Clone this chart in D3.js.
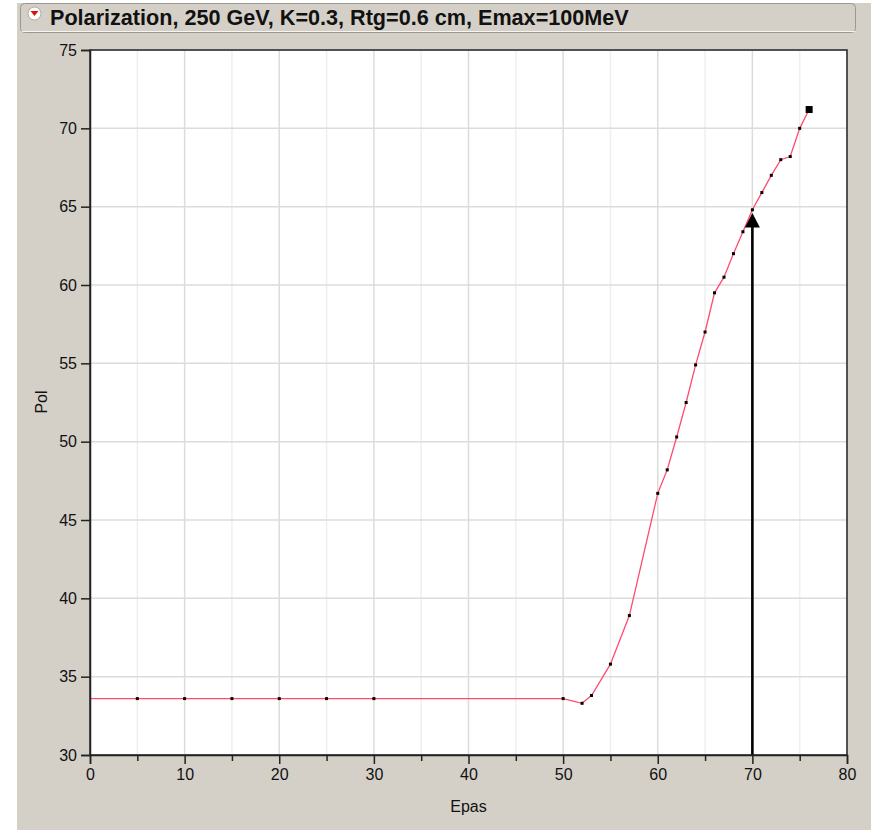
<!DOCTYPE html>
<html>
<head>
<meta charset="utf-8">
<script src="https://cdn.jsdelivr.net/npm/d3@7/dist/d3.min.js"></script>
<style>
  html, body { margin: 0; padding: 0; background: #ffffff; }
  svg { display: block; }
  text { font-family: "Liberation Sans", Arial, sans-serif; fill: #111; }
</style>
</head>
<body>
<svg id="chart" width="871" height="830"></svg>
<script>
// Polarization vs. Epas
const epas = [0, 5, 10, 15, 20, 25, 30, 50, 52, 53, 55, 57, 60, 61, 62, 63, 64, 65, 66, 67, 68, 69, 70, 71, 72, 73, 74, 75, 76];
const pol  = [33.6, 33.6, 33.6, 33.6, 33.6, 33.6, 33.6, 33.6, 33.3, 33.8, 35.8, 38.9, 46.7, 48.2, 50.3, 52.5, 54.9, 57.0, 59.5, 60.5, 62.0, 63.4, 64.8, 65.9, 67.0, 68.0, 68.2, 70.0, 71.2];

const xTicks = [0, 10, 20, 30, 40, 50, 60, 70, 80];
const xMinorTicks = [5, 15, 25, 35, 45, 55, 65, 75];
const yTicks = [30, 35, 40, 45, 50, 55, 60, 65, 70, 75];

// Vertical marker arrow at Epas = 70
const arrowEpas = 70;
const arrowFrom = 30;
const arrowTo = 64.6;

const titleText = "Polarization, 250 GeV, K=0.3, Rtg=0.6 cm, Emax=100MeV";
const xLabel = "Epas";
const yLabel = "Pol";

const svg = d3.select("#chart");
const bg = "#d4d0c8";

// window panel background
svg.append("rect").attr("x", 17).attr("y", 3).attr("width", 854).attr("height", 827).attr("fill", bg);

// title bar
svg.append("rect").attr("x", 20.5).attr("y", 3.5).attr("width", 835).attr("height", 29)
  .attr("rx", 4).attr("fill", bg).attr("stroke", "#9a978f").attr("stroke-width", 1);
svg.append("path").attr("d", "M21.5,31.5 H855.5").attr("stroke", "#ffffff").attr("stroke-width", 1).attr("opacity", 0.8);

// collapse icon
svg.append("circle").attr("cx", 34.5).attr("cy", 13.5).attr("r", 6.5).attr("fill", "#ffffff").attr("stroke", "#b0ada6");
svg.append("path").attr("d", "M30.5,11 L38.5,11 L34.5,16 Z").attr("fill", "#e01010");

const title = svg.append("text").attr("x", 50).attr("y", 25)
  .attr("font-weight", "bold").attr("font-size", 18).text(titleText);
const tl = title.node().getComputedTextLength();
title.attr("font-size", 18 * 579 / tl);

// plot area
const pLeft = 90, pRight = 847, pTop = 50, pBottom = 755;
const x = d3.scaleLinear().domain([0, 80]).range([pLeft, pRight]);
const y = d3.scaleLinear().domain([30, 75]).range([pBottom, pTop]);

svg.append("rect").attr("x", pLeft).attr("y", pTop).attr("width", pRight - pLeft).attr("height", pBottom - pTop).attr("fill", "#ffffff");

// grid
svg.append("g").selectAll("line").data(xMinorTicks).join("line")
  .attr("x1", d => x(d)).attr("x2", d => x(d)).attr("y1", pTop).attr("y2", pBottom)
  .attr("stroke", "#efefef").attr("stroke-width", 1.5);
svg.append("g").selectAll("line").data(xTicks).join("line")
  .attr("x1", d => x(d)).attr("x2", d => x(d)).attr("y1", pTop).attr("y2", pBottom)
  .attr("stroke", "#dcdcdc").attr("stroke-width", 1.5);
svg.append("g").selectAll("line").data(yTicks).join("line")
  .attr("x1", pLeft).attr("x2", pRight).attr("y1", d => y(d)).attr("y2", d => y(d))
  .attr("stroke", "#dcdcdc").attr("stroke-width", 1.5);

// data line
const pts = epas.map((e, i) => [e, pol[i]]);
svg.append("path").datum(pts)
  .attr("d", d3.line().x(d => x(d[0])).y(d => y(d[1])))
  .attr("fill", "none").attr("stroke", "#ff4b6e").attr("stroke-width", 1.3);

// markers (the last point is drawn larger)
const mk = pts.slice(1);
const last = mk.length - 1;
svg.append("g").selectAll("rect").data(mk).join("rect")
  .attr("x", (d, i) => x(d[0]) - (i === last ? 3.5 : 1.5))
  .attr("y", (d, i) => y(d[1]) - (i === last ? 3.5 : 1.5))
  .attr("width", (d, i) => i === last ? 7 : 3)
  .attr("height", (d, i) => i === last ? 7 : 3)
  .attr("fill", "#000");

// arrow
const ax = x(arrowEpas), ay = y(arrowTo);
svg.append("line").attr("x1", ax).attr("x2", ax)
  .attr("y1", y(arrowFrom)).attr("y2", ay + 12)
  .attr("stroke", "#000").attr("stroke-width", 2.6);
svg.append("path").attr("d", `M${ax},${ay} L${ax - 7.5},${ay + 14.5} L${ax + 7.5},${ay + 14.5} Z`).attr("fill", "#000");

// frame
svg.append("rect").attr("x", pLeft).attr("y", pTop).attr("width", pRight - pLeft).attr("height", pBottom - pTop)
  .attr("fill", "none").attr("stroke", "#222").attr("stroke-width", 1.5);

// axes
svg.append("g").attr("transform", `translate(0,${pBottom})`)
  .call(d3.axisBottom(x).tickValues(xTicks).tickSize(9).tickPadding(5).tickFormat(d3.format("d")));
svg.append("g").attr("transform", `translate(0,${pBottom})`)
  .call(d3.axisBottom(x).tickValues(xMinorTicks).tickSize(6).tickFormat(""))
  .call(g => g.select(".domain").remove());
svg.append("g").attr("transform", `translate(${pLeft},0)`)
  .call(d3.axisLeft(y).tickValues(yTicks).tickSize(9).tickPadding(4).tickFormat(d3.format("d")));

svg.selectAll(".tick line").attr("stroke", "#222").attr("stroke-width", 1.5);
svg.selectAll(".domain").attr("stroke", "#222").attr("stroke-width", 1.5);
svg.selectAll(".tick text").attr("font-family", "Liberation Sans, Arial, sans-serif")
  .attr("font-size", 16).attr("fill", "#111");

// axis titles
svg.append("text").attr("x", (pLeft + pRight) / 2).attr("y", 812).attr("text-anchor", "middle")
  .attr("font-size", 16).text(xLabel);
svg.append("text").attr("transform", "translate(47,402) rotate(-90)").attr("text-anchor", "middle")
  .attr("font-size", 16).text(yLabel);
</script>
</body>
</html>
